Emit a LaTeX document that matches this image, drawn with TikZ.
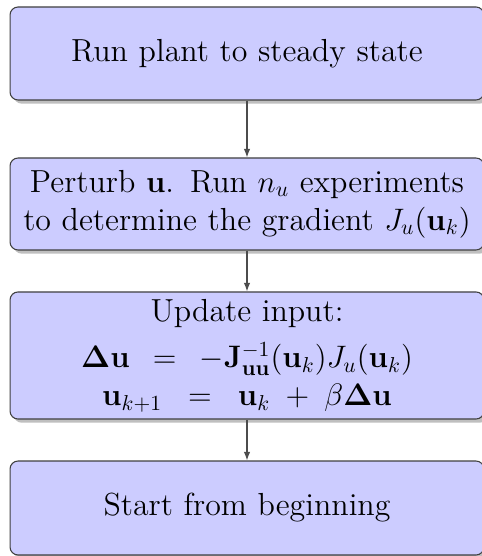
\documentclass[tikz,border=0pt]{standalone}
\usepackage{amsmath}
\usepackage{bm}
\usetikzlibrary{shadows,arrows.meta}
\definecolor{boxfill}{RGB}{204,204,255}
\tikzset{
  flowbox/.style={draw=black!75, line width=0.5pt, fill=boxfill, rounded corners=3.7pt,
    minimum width=219.8pt, text width=218.4pt, inner xsep=0.7pt, align=center,
    font=\fontsize{14.8}{17.5}\selectfont,
    drop shadow={shadow xshift=1.7pt, shadow yshift=-1.7pt, fill=black!25, opacity=1}},
  flowarrow/.style={draw=black!70, line width=0.5pt, -{Latex[length=4pt,width=3pt]}}
}
\newcommand{\eqgap}{\mskip 3mu}
\begin{document}
\begin{tikzpicture}[x=0.4638pt,y=-0.4638pt]
\useasboundingbox (0,0) rectangle (481,556);
\node[flowbox, minimum height=93*0.4638pt] (n1) at (247,53.5) {Run plant to steady state};
\node[flowbox, minimum height=92*0.4638pt] (n2) at (247,204) {Perturb $\mathbf{u}$. Run $n_u$ experiments\\ to determine the gradient $J_u(\mathbf{u}_k)$};
\node[flowbox, minimum height=125*0.4638pt] (n3) at (247,355.5) {Update input:\\[4pt]
$\bm{\Delta}\mathbf{u}\eqgap=\eqgap-\mathbf{J}^{-1}_{\mathbf{uu}}(\mathbf{u}_k)J_u(\mathbf{u}_k)$\\
$\mathbf{u}_{k+1}\eqgap=\eqgap\mathbf{u}_k \mskip 2mu+\mskip 2mu \beta\bm{\Delta}\mathbf{u}$};
\node[flowbox, minimum height=94*0.4638pt] (n4) at (247,508) {Start from beginning};
\draw[flowarrow] (n1) -- (n2);
\draw[flowarrow] (n2) -- (n3);
\draw[flowarrow] (n3) -- (n4);
\end{tikzpicture}
\end{document}
